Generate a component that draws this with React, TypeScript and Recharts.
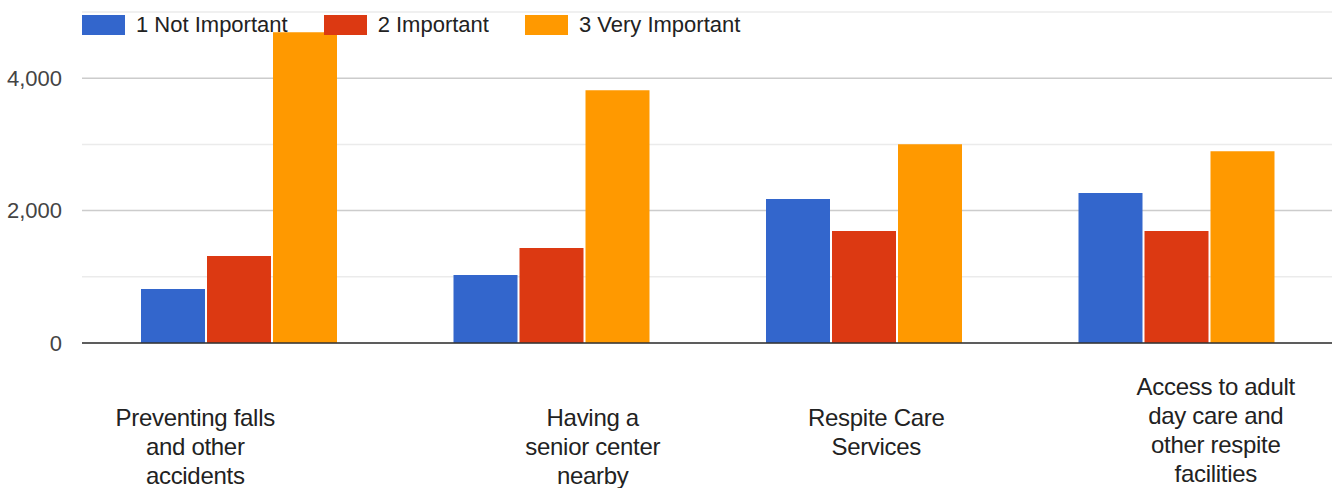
import React from "react";
import {
  BarChart,
  Bar,
  XAxis,
  YAxis,
  CartesianGrid,
  Legend,
} from "recharts";

const categories = [
  "Preventing falls and other accidents",
  "Having a senior center nearby",
  "Respite Care Services",
  "Access to adult day care and other respite facilities",
];
const labelLines = [
  ["Preventing falls", "and other", "accidents"],
  ["Having a", "senior center", "nearby"],
  ["Respite Care", "Services"],
  ["Access to adult", "day care and", "other respite", "facilities"],
];
const notImportant = [815, 1026, 2174, 2264];
const important = [1313, 1434, 1691, 1691];
const veryImportant = [4694, 3819, 3004, 2898];
const yTicks = [0, 1000, 2000, 3000, 4000, 5000];

// label placement tweaks (offset from category centre, first line centre below axis)
const tickLayout = [
  { dx: -43, top: 74 },
  { dx: 42, top: 74 },
  { dx: 13, top: 74 },
  { dx: 40, top: 43 },
];

const data = categories.map((name, i) => ({
  name,
  notImportant: notImportant[i],
  important: important[i],
  veryImportant: veryImportant[i],
}));

const FONT = '"Liberation Sans", Arial, sans-serif';

const CategoryTick = (props: any) => {
  const { x, y, payload, index } = props;
  const lines = labelLines[index] || [payload.value];
  const lay = tickLayout[index] || { dx: 0, top: 40 };
  return (
    <g>
      {lines.map((line: string, i: number) => (
        <text
          key={i}
          x={x + lay.dx}
          y={y + lay.top + i * 29 + 8.5}
          textAnchor="middle"
          fill="#222"
          style={{ fontSize: 24, fontFamily: FONT, letterSpacing: -0.3 }}
        >
          {line}
        </text>
      ))}
    </g>
  );
};

const GridLine = (props: any) => {
  const { x1, x2, y1, y2, index } = props;
  const minor = index % 2 === 1;
  return (
    <line
      x1={x1}
      x2={x2}
      y1={y1}
      y2={y2}
      stroke={minor ? "#ebebeb" : "#cccccc"}
      strokeWidth={1.5}
    />
  );
};

const LegendContent = (props: any) => {
  const { payload } = props;
  return (
    <div style={{ display: "flex", alignItems: "center", fontFamily: FONT }}>
      {(payload || []).map((entry: any, i: number) => (
        <div
          key={i}
          style={{ display: "flex", alignItems: "center", marginRight: 36 }}
        >
          <div
            style={{
              width: 43,
              height: 20,
              background: entry.color,
              marginRight: 11,
            }}
          />
          <span style={{ fontSize: 22, color: "#222" }}>{entry.value}</span>
        </div>
      ))}
    </div>
  );
};

const App = () => {
  return (
    <div style={{ position: "absolute", left: 0, top: 0, background: "#fff" }}>
      <BarChart
        width={1340}
        height={488}
        data={data}
        margin={{ top: 12, right: 8, left: 0, bottom: 0 }}
        barCategoryGap={59}
        barGap={2}
      >
        <CartesianGrid vertical={false} horizontal={GridLine} />
        <XAxis
          dataKey="name"
          height={145}
          tickLine={false}
          tickSize={0}
          tickMargin={0}
          axisLine={{ stroke: "#333", strokeWidth: 1.5 }}
          tick={<CategoryTick />}
          interval={0}
        />
        <YAxis
          width={82}
          domain={[0, 5000]}
          ticks={yTicks}
          interval={0}
          axisLine={false}
          tickLine={false}
          tickSize={0}
          tickMargin={20}
          tick={{ fill: "#444", fontSize: 22, fontFamily: FONT }}
          tickFormatter={(v: number) =>
            v % 2000 === 0 ? v.toLocaleString("en-US") : ""
          }
        />
        <Legend
          layout="horizontal"
          verticalAlign="middle"
          align="center"
          content={<LegendContent />}
          wrapperStyle={{ top: 12, left: 82, width: 900, height: 20 }}
        />
        <Bar
          dataKey="notImportant"
          name="1 Not Important"
          fill="#3366cc"
          isAnimationActive={false}
        />
        <Bar
          dataKey="important"
          name="2 Important"
          fill="#dc3912"
          isAnimationActive={false}
        />
        <Bar
          dataKey="veryImportant"
          name="3 Very Important"
          fill="#ff9900"
          isAnimationActive={false}
        />
      </BarChart>
    </div>
  );
};

export default App;
